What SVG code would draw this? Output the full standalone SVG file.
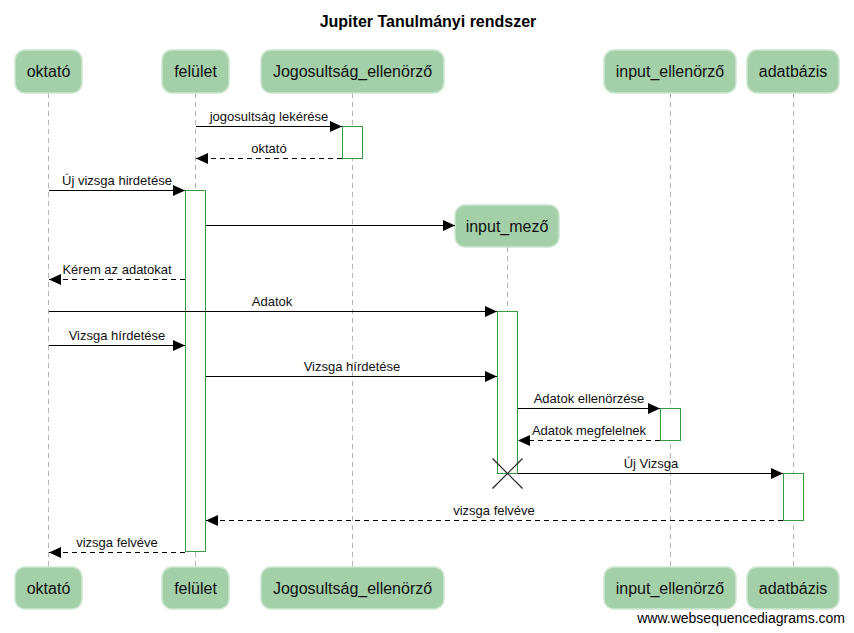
<svg xmlns="http://www.w3.org/2000/svg" width="854" height="633" viewBox="0 0 854 633">
<style>
.p rect{fill:#a3d0a9;stroke:#cde6d0;stroke-width:1.5}
.p text{font-family:"Liberation Sans",Arial,sans-serif;font-size:16px;fill:#111;text-anchor:middle}
.life{stroke:#b4b4b4;stroke-width:1;stroke-dasharray:5,4;fill:none}
.act{fill:#fff;stroke:#3a9a44;stroke-width:1}
.m{stroke:#000;stroke-width:1.2;fill:none;marker-end:url(#ah)}
.d{stroke-dasharray:5,4}
.lbl{font-family:"Liberation Sans",Arial,sans-serif;font-size:13px;fill:#111;text-anchor:middle}
.title{font-family:"Liberation Sans",Arial,sans-serif;font-size:16px;font-weight:bold;fill:#000;text-anchor:middle}
.foot{font-family:"Liberation Sans",Arial,sans-serif;font-size:14px;fill:#000;text-anchor:end}
</style>
<defs>
<marker id="ah" markerUnits="userSpaceOnUse" markerWidth="13" markerHeight="12" refX="12" refY="6" orient="auto">
<path d="M0,0.5 L12,6 L0,11.5 z" fill="#000"/>
</marker>
</defs>
<rect width="854" height="633" fill="#fff"/>
<text class="title" x="428" y="27">Jupiter Tanulmányi rendszer</text>

<g id="lifelines">
<line class="life" x1="48.5" y1="93" x2="48.5" y2="567"/>
<line class="life" x1="195.5" y1="93" x2="195.5" y2="567"/>
<line class="life" x1="352.5" y1="93" x2="352.5" y2="567"/>
<line class="life" x1="670.5" y1="93" x2="670.5" y2="567"/>
<line class="life" x1="793.5" y1="93" x2="793.5" y2="567"/>
<line class="life" x1="507.5" y1="247" x2="507.5" y2="473"/>
</g>

<g id="activations">
<rect class="act" x="342.5" y="126.5" width="20" height="32"/>
<rect class="act" x="185.5" y="190.5" width="20" height="361"/>
<rect class="act" x="497.5" y="311.5" width="20" height="162"/>
<rect class="act" x="660.5" y="408.5" width="20" height="32"/>
<rect class="act" x="783.5" y="473.5" width="20" height="47"/>
</g>

<g id="p-oktato-top" class="p"><rect x="15" y="50" width="67" height="43" rx="10"/><text x="48.5" y="77">oktató</text></g>
<g id="p-felulet-top" class="p"><rect x="162" y="50" width="67" height="43" rx="10"/><text x="195.5" y="77">felület</text></g>
<g id="p-jog-top" class="p"><rect x="261" y="50" width="183" height="43" rx="10"/><text x="352.5" y="77">Jogosultság_ellenörző</text></g>
<g id="p-inputell-top" class="p"><rect x="604" y="50" width="132" height="43" rx="10"/><text x="670" y="77">input_ellenörző</text></g>
<g id="p-adatbazis-top" class="p"><rect x="747" y="50" width="92" height="43" rx="10"/><text x="793" y="77">adatbázis</text></g>
<g id="p-inputmezo" class="p"><rect x="455" y="205" width="104" height="42" rx="10"/><text x="507" y="232">input_mező</text></g>

<g id="p-oktato-bot" class="p"><rect x="15" y="567" width="67" height="42" rx="10"/><text x="48.5" y="594">oktató</text></g>
<g id="p-felulet-bot" class="p"><rect x="162" y="567" width="67" height="42" rx="10"/><text x="195.5" y="594">felület</text></g>
<g id="p-jog-bot" class="p"><rect x="261" y="567" width="183" height="42" rx="10"/><text x="352.5" y="594">Jogosultság_ellenörző</text></g>
<g id="p-inputell-bot" class="p"><rect x="604" y="567" width="132" height="42" rx="10"/><text x="670" y="594">input_ellenörző</text></g>
<g id="p-adatbazis-bot" class="p"><rect x="747" y="567" width="92" height="42" rx="10"/><text x="793" y="594">adatbázis</text></g>

<g id="connectors">
<line class="m" x1="196" y1="126.5" x2="342" y2="126.5"/>
<text class="lbl" x="269" y="121">jogosultság lekérése</text>
<line class="m d" x1="342" y1="158.5" x2="196" y2="158.5"/>
<text class="lbl" x="269" y="153">oktató</text>
<line class="m" x1="49" y1="190.5" x2="185" y2="190.5"/>
<text class="lbl" x="117" y="185">Új vizsga hirdetése</text>
<line class="m" x1="206" y1="225.5" x2="455" y2="225.5"/>
<line class="m d" x1="185" y1="279.5" x2="49" y2="279.5"/>
<text class="lbl" x="117" y="274">Kérem az adatokat</text>
<line class="m" x1="49" y1="311.5" x2="497" y2="311.5"/>
<text class="lbl" x="272" y="306">Adatok</text>
<line class="m" x1="49" y1="345.5" x2="185" y2="345.5"/>
<text class="lbl" x="117" y="340">Vizsga hírdetése</text>
<line class="m" x1="206" y1="376.5" x2="497" y2="376.5"/>
<text class="lbl" x="352" y="371">Vizsga hírdetése</text>
<line class="m" x1="518" y1="408.5" x2="660" y2="408.5"/>
<text class="lbl" x="589" y="403">Adatok ellenörzése</text>
<line class="m d" x1="660" y1="440.5" x2="518" y2="440.5"/>
<text class="lbl" x="589" y="435">Adatok megfelelnek</text>
<line class="m" x1="518" y1="473.5" x2="783" y2="473.5"/>
<text class="lbl" x="651" y="468">Új Vizsga</text>
<line class="m d" x1="783" y1="520.5" x2="206" y2="520.5"/>
<text class="lbl" x="494" y="515">vizsga felvéve</text>
<line class="m d" x1="185" y1="552.5" x2="49" y2="552.5"/>
<text class="lbl" x="117" y="547">vizsga felvéve</text>
</g>

<g id="destroy" stroke="#222" stroke-width="1.2">
<line x1="492.5" y1="458.5" x2="522.5" y2="488.5"/>
<line x1="522.5" y1="458.5" x2="492.5" y2="488.5"/>
</g>

<text class="foot" x="845" y="623">www.websequencediagrams.com</text>
</svg>
